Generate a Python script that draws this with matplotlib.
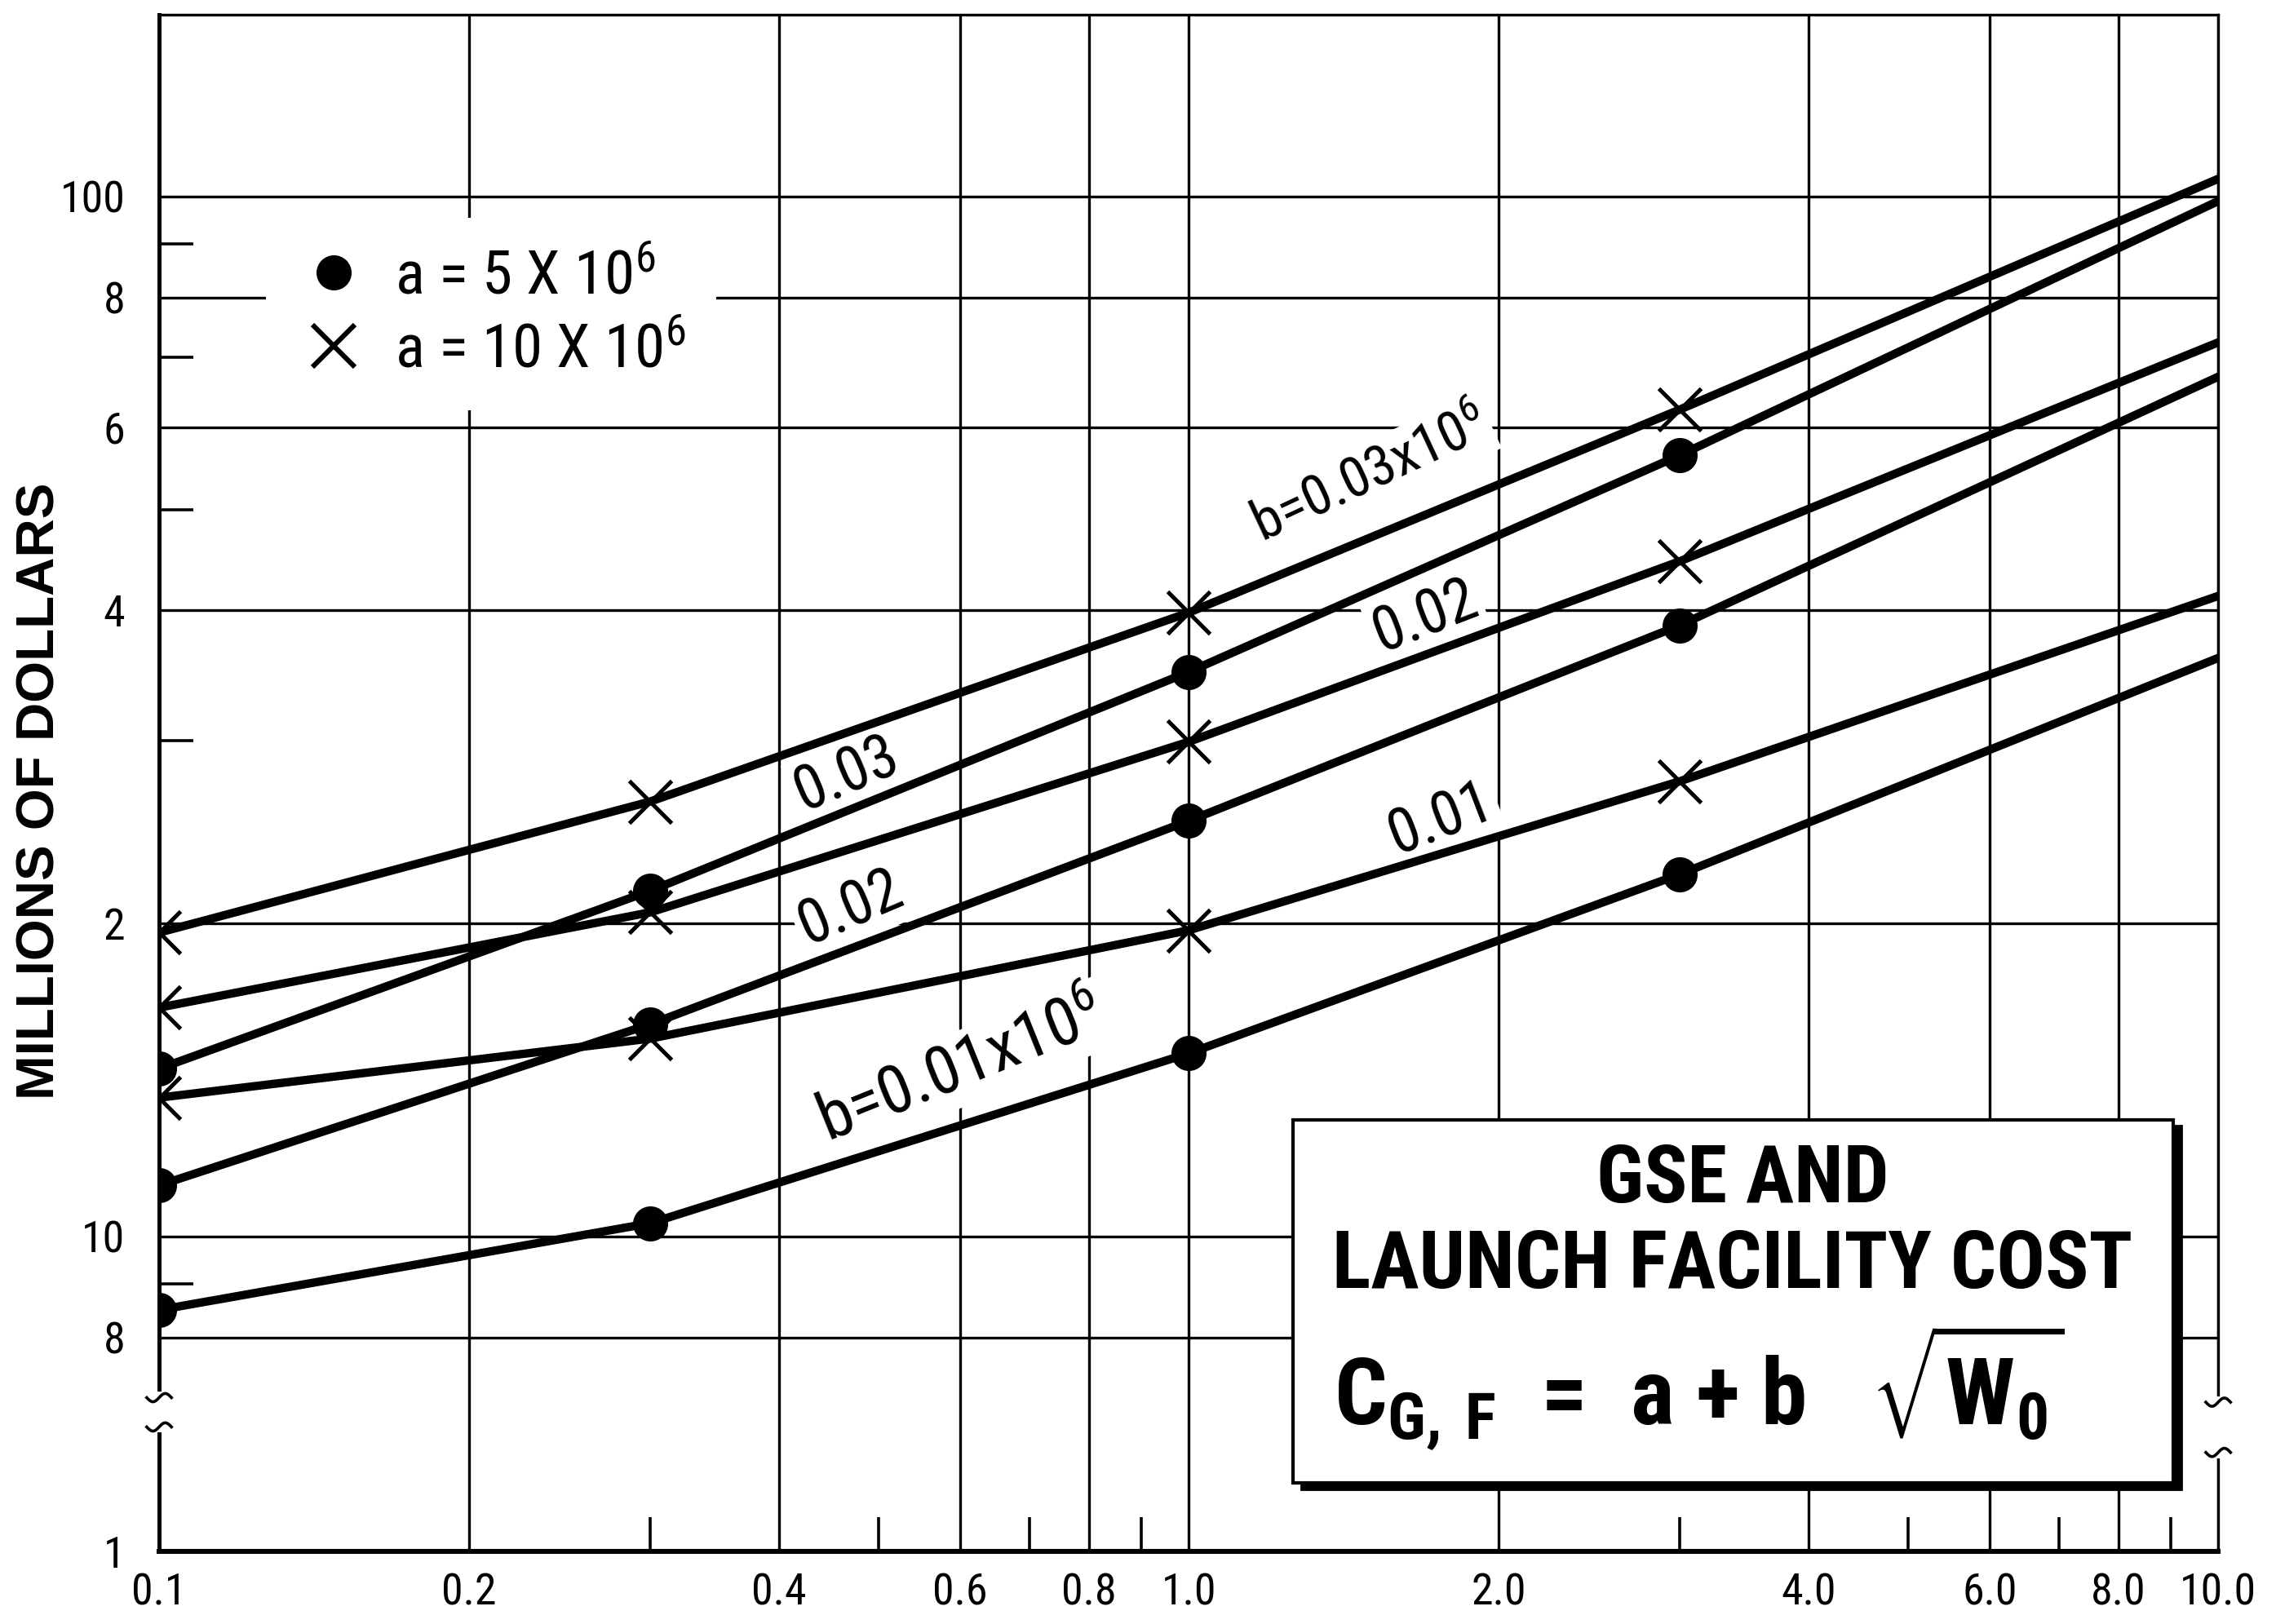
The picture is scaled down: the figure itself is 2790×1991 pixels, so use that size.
import matplotlib
matplotlib.use('Agg')
import matplotlib.pyplot as plt
from matplotlib import font_manager
from matplotlib.lines import Line2D
from matplotlib.patches import Rectangle
from matplotlib.ticker import NullFormatter
import numpy as np

# pick a narrow sans if one is installed (the original lettering is condensed)
installed = font_manager.fontManager.ttflist
names = {f.name for f in installed}
stretch = 'normal'
for cand in ['Liberation Sans Narrow', 'Roboto Condensed', 'Open Sans Condensed']:
    if cand in names:
        family = cand
        break
else:
    if any(f.name == 'DejaVu Sans' and f.stretch == 'condensed' for f in installed):
        family, stretch = 'DejaVu Sans', 'condensed'
    else:
        family = 'Liberation Sans'
plt.rcParams['font.family'] = [family, 'DejaVu Sans']
plt.rcParams['font.stretch'] = stretch
plt.rcParams['mathtext.default'] = 'regular'

# gross weight W0 (millions of lb)
w0 = [0.1, 0.3, 1.0, 3.0, 10.0]

# a = 5 x 10^6  (dots)
cost_a5_b001 = [8.5, 10.3, 15.0, 22.3, 36.0]
cost_a5_b002 = [11.2, 16.0, 25.1, 38.7, 67.1]
cost_a5_b003 = [14.5, 21.5, 34.9, 56.4, 99.0]
# a = 10 x 10^6  (crosses)
cost_a10_b001 = [13.6, 15.5, 19.7, 27.4, 41.3]
cost_a10_b002 = [16.6, 20.5, 29.9, 44.6, 72.4]
cost_a10_b003 = [19.6, 26.2, 39.8, 62.4, 104.0]

x_ticks = [0.1, 0.2, 0.4, 0.6, 0.8, 1.0, 2.0, 4.0, 6.0, 8.0, 10.0]
x_labels = ['0.1', '0.2', '0.4', '0.6', '0.8', '1.0', '2.0', '4.0', '6.0', '8.0', '10.0']
x_minor = [0.3, 0.5, 0.7, 0.9, 3.0, 5.0, 7.0, 9.0]
y_ticks = [8, 10, 20, 40, 60, 80, 100]
y_labels = ['8', '10', '2', '4', '6', '8', '100']
y_minor = [9, 30, 50, 70, 90]

legend_labels = ['a = 5 X 10$^6$', 'a = 10 X 10$^6$']
curve_labels = ['b=0.03x10$^6$', '0.02', '0.03', '0.02', '0.01', 'b=0.01x10$^6$']

y_bottom = 4.98   # axis is broken, bottom edge is labelled "1"
DPI = 200
PX = DPI / 72.0   # pixels per point

fig = plt.figure(figsize=(13.95, 9.955), dpi=DPI)
renderer = fig.canvas.get_renderer()


def fit(s, target_px, **kw):
    # font size (pt) that gives the text a width of target_px
    t = fig.text(0, 0, s, fontsize=20, **kw)
    w = t.get_window_extent(renderer).width
    t.remove()
    return 20 * target_px / w


ax = fig.add_axes([0.0699, 0.0447, 0.9047, 0.9463])
ax.set_xscale('log')
ax.set_yscale('log')
ax.set_xlim(0.1, 10)
ax.set_ylim(y_bottom, 149.6)

lw = 3.7
dot = dict(marker='o', ms=14.5, markevery=slice(0, 4))
cross = dict(marker='x', ms=19, mew=1.8, markevery=slice(0, 4))
for ys in (cost_a5_b001, cost_a5_b002, cost_a5_b003):
    ax.plot(w0, ys, color='black', lw=lw, zorder=3, **dot)
for ys in (cost_a10_b001, cost_a10_b002, cost_a10_b003):
    ax.plot(w0, ys, color='black', lw=lw, zorder=3, **cross)

# ticks and grid
tick_fs = min(fit('100', 80), 21)
ax.set_xticks(x_ticks)
ax.set_xticklabels(x_labels)
ax.set_xticks(x_minor, minor=True)
ax.xaxis.set_minor_formatter(NullFormatter())
ax.set_yticks([y_bottom] + y_ticks)
ax.set_yticklabels(['1'] + y_labels)
ax.set_yticks(y_minor, minor=True)
ax.yaxis.set_minor_formatter(NullFormatter())
ax.tick_params(which='major', length=0, labelsize=tick_fs)
ax.tick_params(axis='x', which='major', pad=9)
ax.tick_params(axis='y', which='major', pad=15)
ax.tick_params(which='minor', direction='in', length=15, width=1.3)
ax.grid(which='major', color='black', lw=1.2)
ax.set_axisbelow(True)

for side, w in (('top', 1.2), ('right', 1.2), ('left', 1.8), ('bottom', 2.2)):
    ax.spines[side].set_linewidth(w)

# break marks on both y axes
yt = ax.get_yaxis_transform()
for xa, (y_hi, y_lo) in ((0.0, (7.0, 6.56)), (1.0, (6.93, 6.2))):
    ax.plot([xa, xa], [y_lo, y_hi], transform=yt, color='white', lw=5,
            clip_on=False, zorder=6)
    for yb in (y_hi, y_lo):
        xs = np.linspace(-0.006, 0.006, 25)
        ax.plot(xa + xs, yb * 10 ** (0.004 * np.sin(xs / 0.006 * np.pi)),
                transform=yt, color='black', lw=1.3, clip_on=False, zorder=7)

# curve labels: position, angle, width along the baseline in px
label_pos = [(1.50, 54.0, 25), (1.70, 39.4, 21), (0.466, 27.8, 23),
             (0.470, 20.7, 23), (1.76, 25.2, 21), (0.601, 14.5, 22)]
short_fs = fit('0.02', 132)
label_fs = [fit(curve_labels[0], 310), short_fs, short_fs, short_fs, short_fs,
            fit(curve_labels[5], 370)]
for txt, (xp, yp, rot), fs in zip(curve_labels, label_pos, label_fs):
    ax.text(xp, yp, txt, rotation=rot, ha='center', va='center', fontsize=fs,
            rotation_mode='anchor', zorder=2.5,
            bbox=dict(fc='white', ec='none', pad=2))

# legend (marker column centred at x=409px, text starting at x=484px)
leg_fs = fit(legend_labels[0], 320)
frame_left = 409 - (0.5 + 0.6) * leg_fs * PX
htp = (484 - frame_left) / (leg_fs * PX) - 1.7
frame_top = 361 - 0.5 * leg_fs * PX - 0.75 * leg_fs * PX
handles = [Line2D([], [], ls='none', marker='o', color='black', ms=14.5),
           Line2D([], [], ls='none', marker='x', color='black', ms=19, mew=2.2)]
ax.legend(handles, legend_labels, loc='upper left',
          bbox_to_anchor=((frame_left - 195) / 2524, (1902 - frame_top) / 1884),
          borderaxespad=0, frameon=True, fancybox=False, edgecolor='none',
          facecolor='white', framealpha=1, fontsize=leg_fs,
          handletextpad=htp, labelspacing=0.25, borderpad=0.5, handlelength=1.2)

# title box with shadow
bx, by, bw, bh = 0.5507, 0.0446, 0.4273, 0.2364
ax.add_patch(Rectangle((bx + 0.004, by - 0.0042), bw, bh, transform=ax.transAxes,
                       fc='black', ec='black', zorder=7, clip_on=False))
ax.add_patch(Rectangle((bx, by), bw, bh, transform=ax.transAxes,
                       fc='white', ec='black', lw=1.5, zorder=8))
title_fs = fit('LAUNCH FACILITY COST', 979, fontweight='bold')
formula = r'C$_{G,\,F}$  =  a + b   $\sqrt{W_0}$'
formula_fs = title_fs * 1.15
ax.text(0.769, 0.2415, 'GSE AND', transform=ax.transAxes, ha='center',
        va='center', fontsize=title_fs, fontweight='bold', zorder=9)
ax.text(0.764, 0.186, 'LAUNCH FACILITY COST', transform=ax.transAxes,
        ha='center', va='center', fontsize=title_fs, fontweight='bold', zorder=9)
ax.text(0.748, 0.107, formula, transform=ax.transAxes,
        ha='center', va='center', fontsize=formula_fs, fontweight='bold', zorder=9)

ylab_kw = dict(fontweight='bold', family=['Liberation Sans', 'DejaVu Sans'],
               fontstretch='normal')
fig.text(0.0179, 0.513, 'MILLIONS OF DOLLARS', rotation=90, ha='center',
         va='center', fontsize=fit('MILLIONS OF DOLLARS', 756, **ylab_kw),
         **ylab_kw)

fig.savefig('out.png', dpi=DPI, facecolor='white')
